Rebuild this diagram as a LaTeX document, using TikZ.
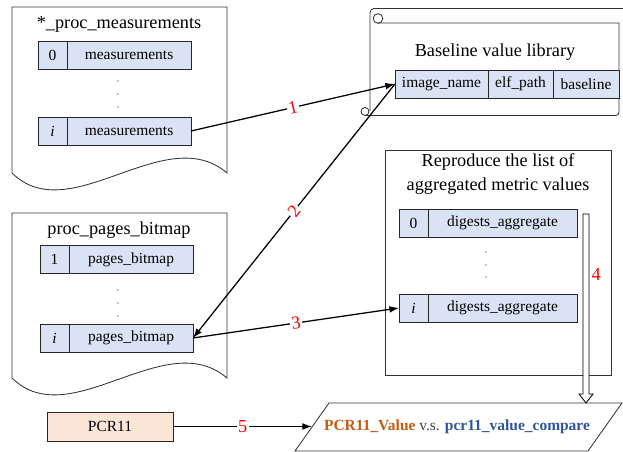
\documentclass[tikz,border=0pt]{standalone}
\usepackage{fontspec}
\setmainfont{Liberation Serif}
\usetikzlibrary{positioning,calc,arrows.meta}
\definecolor{cellblue}{HTML}{DAE3F3}
\definecolor{pcrfill}{HTML}{FBE5D6}
\definecolor{valorange}{HTML}{C55A11}
\definecolor{cmpblue}{HTML}{2F5597}
\def\scalex{0.025cm}
\def\docs{{7/173}, {213/378}}
\def\dotlist{118/81, 118/94, 118/107, 118/290, 118/303, 118/316, 486/252, 486/265, 486/277}
\tikzstyle{docline}=[draw,line width=0.6pt,black!80]
\tikzstyle{title}=[font=\fontsize{13}{17}\selectfont,align=center,inner sep=1pt]
\tikzstyle{cell}=[draw=black!85,fill=cellblue,line width=0.6pt,minimum height=0.7cm,inner sep=0pt,outer sep=0pt,font=\fontsize{11}{13}\selectfont]
\tikzstyle{idxcell}=[cell,minimum width=0.725cm]
\tikzstyle{valcell}=[cell,minimum width=3.1cm]
\tikzstyle{link}=[draw,line width=0.9pt,-{Latex[length=2.4mm,width=1.7mm]}]
\tikzstyle{numlabel}=[text=red,fill=white,inner sep=1pt,font=\fontsize{13}{13}\selectfont]

\begin{document}
\begin{tikzpicture}[x=\scalex,y=-\scalex]
  \useasboundingbox (0,0) rectangle (623,452);

  % First we draw the two document shapes
  \foreach \top/\bot in \docs
    \path[docline] (12,\bot) -- (12,\top) -- (227,\top) -- (227,\bot)
      .. controls (165,\bot-53) and (70,\bot+57) .. (12,\bot);

  \node[title] (meas-title) at (119,24) {*\_proc\_measurements};
  \node[title] (pages-title) at (119,230) {proc\_pages\_bitmap};

  % Rows of the two documents
  \foreach \y/\idx/\name in {55/0/m0, 131/{\textit{i}}/mi} {
    \node[idxcell] (\name-idx) at (52.5,\y) {\idx};
    \node[valcell, right=0pt of \name-idx] (\name) {measurements};
  }
  \foreach \y/\idx/\name in {259.5/1/p1, 338/{\textit{i}}/pi} {
    \node[idxcell] (\name-idx) at (54.5,\y) {\idx};
    \node[valcell, right=0pt of \name-idx] (\name) {pages\_bitmap};
  }

  % The scroll with the baseline library
  \draw[docline, rounded corners=0.1cm] (370,111) -- (370,8.5) -- (623,8.5);
  \draw[docline] (378,18.5) circle [radius=0.12cm];
  \draw[docline] (378,23) -- (619,23) [rounded corners=0.08cm] -- (619,115.5) -- (365,115.5);
  \draw[docline] (365,111.5) circle [radius=0.1cm];
  \node[title] (lib-title) at (495,52) {Baseline value library};
  \node[cell, minimum width=2.325cm] (lib-img) at (441.5,84) {image\_name};
  \node[cell, minimum width=1.625cm, right=0pt of lib-img] (lib-elf) {elf\_path};
  \node[cell, minimum width=1.65cm, right=0pt of lib-elf] (lib-base) {baseline};

  % Box with the aggregated values
  \draw[docline] (385,150) rectangle (611,375);
  \node[title] (agg-title) at (498,174) {Reproduce the list of\\aggregated metric values};
  \foreach \y/\idx/\name in {223/0/d0, 308/{\textit{i}}/di} {
    \node[idxcell] (\name-idx) at (413.5,\y) {\idx};
    \node[valcell, minimum width=3.725cm, right=0pt of \name-idx] (\name) {digests\_aggregate};
  }

  \foreach \x/\y in \dotlist
    \fill (\x,\y) circle [radius=0.5pt];

  % Bottom row
  \node[draw=black!85, fill=pcrfill, line width=0.6pt, minimum width=3.15cm, minimum height=0.725cm,
        font=\fontsize{11}{13}\selectfont] (pcr) at (110,426.5) {PCR11};
  \draw[docline] (295,451) -- (588,451) -- (622,403) -- (329,403) -- cycle;
  \node[font=\bfseries\fontsize{11}{13}\selectfont] (cmp) at (457,426.5)
    {\textcolor{valorange}{PCR11\_Value} \textcolor{black!75}{\mdseries v.s.} \textcolor{cmpblue}{pcr11\_value\_compare}};
  \coordinate (cmp-in) at (312,426.5);
  \coordinate (agg-out) at (586,214);
  \coordinate (cmp-top) at (586,403);

  % Connect the rows
  \path[link] (mi.east) -- (lib-img.west) node[numlabel, midway, sloped] {1};
  \path[link] (lib-img.west) -- (pi.east) node[numlabel, midway, sloped] {2};
  \path[link] (pi.east) -- (di-idx.west) node[numlabel, midway, sloped] {3};
  \path[link] (pcr.east) -- (pcr.east -| cmp-in) node[numlabel, midway] {5};

  % Hollow arrow down to the comparison
  \draw[line width=0.6pt, fill=white] ($(agg-out)+(-3,0)$) -- ($(agg-out)+(3,0)$)
    -- ($(cmp-top)+(3,-9)$) -- ($(cmp-top)+(7,-9)$) -- (cmp-top)
    -- ($(cmp-top)+(-7,-9)$) -- ($(cmp-top)+(-3,-9)$) -- cycle;
  \path (agg-out) -- (cmp-top) node[numlabel, fill=none, pos=0.32, right=0.1cm] {4};
\end{tikzpicture}
\end{document}
